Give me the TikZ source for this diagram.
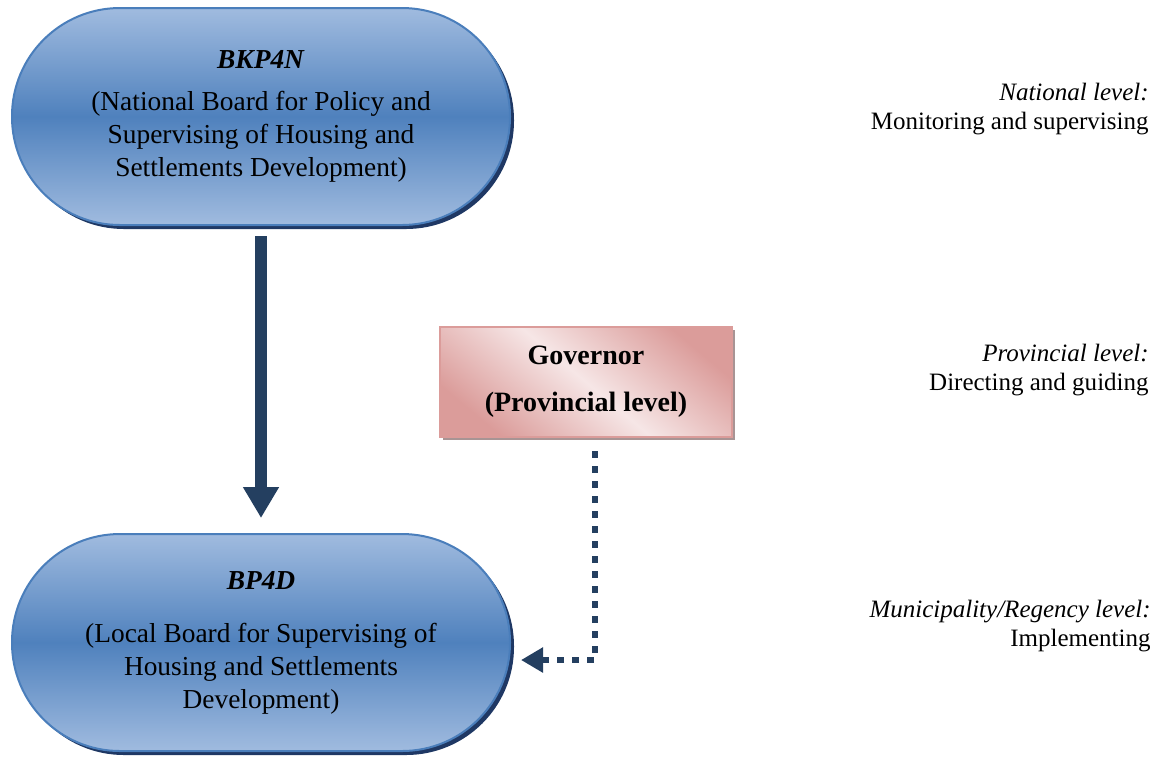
\documentclass[tikz,border=0pt]{standalone}
\usepackage{fontspec}
\setmainfont{Liberation Serif}
\usetikzlibrary{arrows.meta,shadows}
\definecolor{boardlight}{HTML}{A0BBDF}
\definecolor{boardmid}{HTML}{4F81BD}
\definecolor{boardline}{HTML}{4A7EBB}
\definecolor{boardshadow}{HTML}{1F3864}
\definecolor{govdark}{HTML}{DB9C9A}
\definecolor{govlight}{HTML}{F6E6E6}
\definecolor{govshadow}{HTML}{A89494}
\definecolor{arrowblue}{HTML}{243F60}
\begin{document}
\begin{tikzpicture}[x=0.5pt, y=-0.5pt,
        board/.style={draw=boardline, line width=1pt, rounded corners=54pt,
            minimum width=249pt, minimum height=108.5pt, align=center,
            top color=boardlight, bottom color=boardlight, middle color=boardmid,
            font=\fontsize{13.7}{16.5}\selectfont,
            drop shadow={shadow xshift=2pt, shadow yshift=-2pt, fill=boardshadow, opacity=1}},
        gov/.style={draw=govdark, line width=1pt, minimum width=146pt, minimum height=55pt,
            align=center, top color=govdark, bottom color=govdark,
            middle color=govlight, shading angle=-40, font=\fontsize{14}{16.5}\selectfont\bfseries,
            drop shadow={shadow xshift=1.5pt, shadow yshift=-1.5pt, fill=govshadow, opacity=1}},
        level/.style={anchor=east, align=right, inner sep=0pt, font=\fontsize{12.5}{14.5}\selectfont},
        mainarrow/.style={draw=arrowblue, line width=6pt, -{Triangle[width=17pt, length=15.5pt]}},
        dotarrow/.style={draw=arrowblue, line width=3.3pt, dash pattern=on 3.3pt off 4.2pt,
            -{Triangle[width=12pt, length=11pt]}}]
    \useasboundingbox (0,0) rectangle (1159,757);
    \node[board] (bkp4n) at (261,116.5) {\textbf{\textit{BKP4N}}\\[4.5pt]
        (National Board for Policy and\\Supervising of Housing and\\Settlements Development)};
    \node[board] (bp4d) at (261,642.5) {\textbf{\textit{BP4D}}\\[10pt]
        (Local Board for Supervising of\\Housing and Settlements\\Development)};
    \node[gov] (governor) at (586,382) {Governor\\[7pt](Provincial level)};
    \node[level] (national) at (1149,109.5) {\textit{National level:}\\Monitoring and supervising};
    \node[level] (provincial) at (1149,370.5) {\textit{Provincial level:}\\Directing and guiding};
    \node[level] (municipal) at (1151,626) {\textit{Municipality/Regency level:}\\Implementing};
    \coordinate (turn) at (595,660);
    \draw[mainarrow, shorten <=5pt, shorten >=7.5pt] (bkp4n) -- (bp4d);
    \draw[dotarrow, shorten >=5pt] (governor.south -| turn) ++(0,13) -- (turn) -- (turn -| bp4d.east);
\end{tikzpicture}
\end{document}
